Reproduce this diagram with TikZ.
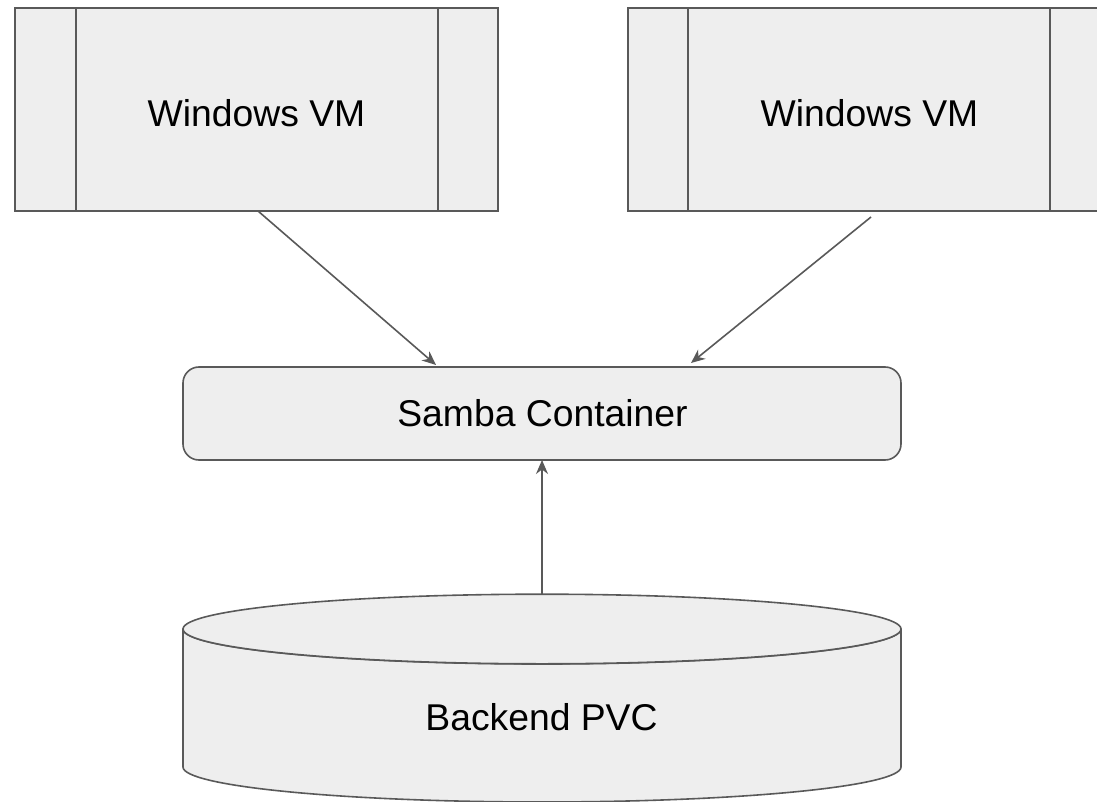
\documentclass[tikz,border=0pt]{standalone}
\usepackage{fontspec}
\setmainfont{Liberation Sans}
\usetikzlibrary{arrows.meta}
\definecolor{edgegray}{HTML}{595959}
\definecolor{fillgray}{HTML}{EEEEEE}
\tikzset{
  x=1pt,y=-1pt,
  shapeline/.style={draw=edgegray,line width=1.6pt,fill=fillgray},
  divider/.style={draw=edgegray,line width=1.6pt},
  vmbox/.style={shapeline,minimum width=483pt,minimum height=203pt,inner sep=0pt,outer sep=0pt},
  sambabox/.style={shapeline,rounded corners=16pt,minimum width=718pt,minimum height=93pt,inner sep=0pt,outer sep=0pt},
  label/.style={text=black,font=\fontsize{37.3pt}{44pt}\selectfont,inner sep=0pt},
  conn/.style={draw=edgegray,line width=1.6pt,-{Stealth[length=14pt,width=12pt]}}
}
\begin{document}
\begin{tikzpicture}
\useasboundingbox (0,0) rectangle (1097,802);
\clip (0,0) rectangle (1097,802);
% Windows VM left
\node[vmbox,anchor=north west] (vmA) at (15,8) {};
\draw[divider] (76,8) -- (76,211);
\draw[divider] (438,8) -- (438,211);
\node[label] (vmAtext) at (256.5,113) {Windows VM};
% Windows VM right
\node[vmbox,anchor=north west] (vmB) at (628,8) {};
\draw[divider] (688,8) -- (688,211);
\draw[divider] (1050,8) -- (1050,211);
\node[label] (vmBtext) at (869.5,113) {Windows VM};
% Samba
\node[sambabox,anchor=north west] (samba) at (183,367) {};
\node[label] (sambatext) at (542.5,413.5) {Samba Container};
% Cylinder
\path[shapeline,line join=round] (183,629) -- (183,767)
  arc[start angle=180,end angle=360,x radius=359,y radius=-35] -- (901,629)
  arc[start angle=0,end angle=180,x radius=359,y radius=35] -- cycle;
\path[shapeline] (542,629) ellipse[x radius=359,y radius=34.8];
\node[label] (pvctext) at (541.5,717) {Backend PVC};
\coordinate (pvctop) at (542,594);
% Connector ends
\coordinate (a1) at (258,211);
\coordinate (a2) at (436,365);
\coordinate (b1) at (871,217);
\coordinate (b2) at (691,363);
\coordinate (c2) at (542,460);
\draw[conn] (a1) -- (a2);
\draw[conn] (b1) -- (b2);
\draw[conn] (pvctop) -- (c2);
\end{tikzpicture}
\end{document}
